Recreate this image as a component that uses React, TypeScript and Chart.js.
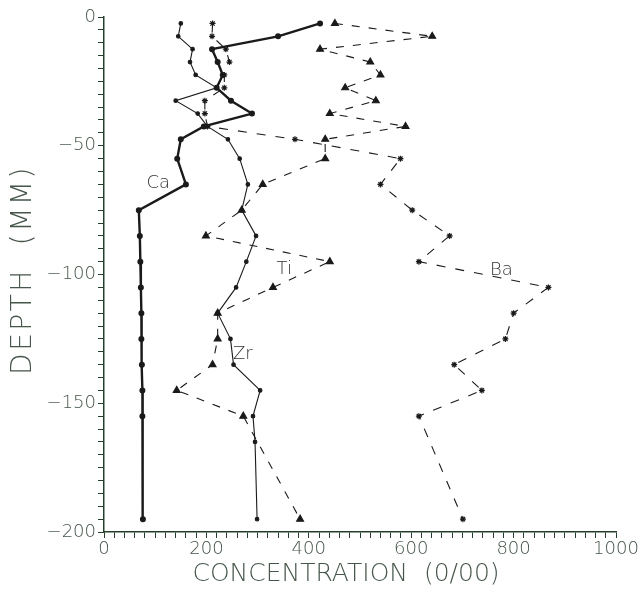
import React, { useEffect, useRef } from "react";
import { Chart, registerables } from "chart.js";

Chart.register(...registerables);

const depths = [-2.5, -7.5, -12.5, -17.5, -22.5, -27.5, -32.5, -37.5, -42.5, -47.5, -55, -65, -75, -85, -95, -105, -115, -125, -135, -145, -155, -195];
const depthsZr = [-2.5, -7.5, -12.5, -17.5, -22.5, -27.5, -32.5, -37.5, -42.5, -47.5, -55, -65, -75, -85, -95, -105, -115, -125, -135, -145, -155, -165, -195];

const caValues = [422, 340, 211, 222, 232, 220, 248, 289, 195, 150, 143, 160, 68, 70, 71, 72, 73, 73, 74, 75, 75, 76];
const zrValues = [150, 145, 173, 168, 179, 220, 140, 183, 202, 242, 265, 281, 269, 297, 278, 258, 222, 247, 253, 305, 291, 295, 299];
const tiValues = [451, 641, 422, 520, 540, 471, 531, 441, 589, 432, 432, 310, 269, 199, 441, 330, 222, 222, 212, 142, 272, 383];
const baValues = [212, 211, 238, 245, 235, 235, 197, 197, 202, 373, 579, 540, 602, 675, 615, 868, 800, 784, 684, 738, 615, 701];

const seriesLabels = ["Ca", "Zr", "Ti", "Ba"];
const labelX = [106, 271, 352, 776];
const labelY = [-64.7, -131, -98, -98.5];

const xTickLabels = [0, 200, 400, 600, 800, 1000];
const yTickLabels = [0, -50, -100, -150, -200];

const xTitle = "CONCENTRATION  (0/00)";
const yTitle = "DEPTH  (MM)";

const AXIS = "#24402c";
const TEXT = "#46564a";
const INK = "#1a1a1a";
const FONT = "'DejaVu Sans', 'Liberation Sans', sans-serif";

function pts(ys: number[], xs: number[]) {
  return xs.map((x, i) => ({ x, y: ys[i] }));
}

export default function App() {
  const ref = useRef<HTMLCanvasElement | null>(null);
  useEffect(() => {
    if (!ref.current) return;
    const labelPlugin = {
      id: "seriesLabels",
      afterDatasetsDraw(chart: any) {
        const { ctx, scales } = chart;
        ctx.save();
        ctx.fillStyle = "#333";
        ctx.font = "200 18px " + FONT;
        ctx.textAlign = "center";
        ctx.textBaseline = "middle";
        seriesLabels.forEach((t, i) => {
          ctx.fillText(t, scales.x.getPixelForValue(labelX[i]), scales.y.getPixelForValue(labelY[i]));
        });
        // axis titles
        ctx.fillStyle = TEXT;
        ctx.font = "200 25px " + FONT;
        (ctx as any).letterSpacing = "0px";
        ctx.fillText(xTitle, 346, 574);
        ctx.save();
        ctx.translate(24, 270);
        ctx.rotate(-Math.PI / 2);
        ctx.font = "200 28px " + FONT;
        (ctx as any).letterSpacing = "2.5px";
        ctx.fillText(yTitle, 0, 0);
        ctx.restore();
        ctx.restore();
      },
    };
    const chart = new Chart(ref.current, {
      type: "line",
      data: {
        datasets: [
          {
            label: "Ca",
            data: pts(depths, caValues),
            borderColor: INK,
            backgroundColor: INK,
            borderWidth: 2.4,
            pointRadius: 1.8,
            pointStyle: "circle",
            tension: 0,
          },
          {
            label: "Zr",
            data: pts(depthsZr, zrValues),
            borderColor: INK,
            backgroundColor: INK,
            borderWidth: 1.1,
            pointRadius: 1.8,
            pointStyle: "circle",
            tension: 0,
          },
          {
            label: "Ti",
            data: pts(depths, tiValues),
            borderColor: INK,
            backgroundColor: INK,
            borderWidth: 1.1,
            borderDash: [8, 9],
            pointRadius: 4,
            pointStyle: "triangle",
            tension: 0,
          },
          {
            label: "Ba",
            data: pts(depths, baValues),
            borderColor: INK,
            backgroundColor: INK,
            borderWidth: 1.1,
            borderDash: [9, 10],
            pointRadius: 3,
            pointStyle: "star",
            pointBorderWidth: 1.2,
            tension: 0,
          },
        ],
      },
      options: {
        animation: false,
        responsive: false,
        layout: { padding: { top: 17, right: 25, left: 0, bottom: 0 } },
        plugins: { legend: { display: false }, tooltip: { enabled: false } },
        scales: {
          x: {
            type: "linear",
            min: 0,
            max: 1000,
            border: { color: AXIS, width: 1.5 },
            grid: { drawOnChartArea: false, drawTicks: true, tickLength: 6, tickColor: AXIS, lineWidth: 1 },
            ticks: {
              stepSize: 20,
              autoSkip: false,
              maxTicksLimit: 200,
              maxRotation: 0,
              color: TEXT,
              padding: 1,
              font: { family: FONT, size: 18, weight: "200" },
              callback: (v: any) => (xTickLabels.includes(Number(v)) ? String(v) : ""),
            },
            afterFit: (s: any) => {
              s.height = 61;
            },
          },
          y: {
            type: "linear",
            min: -200,
            max: 0,
            border: { color: AXIS, width: 1.5 },
            grid: { drawOnChartArea: false, drawTicks: true, tickLength: 6, tickColor: AXIS, lineWidth: 1 },
            ticks: {
              stepSize: 5,
              autoSkip: false,
              maxTicksLimit: 200,
              color: TEXT,
              padding: 2,
              font: { family: FONT, size: 18, weight: "200" },
              callback: (v: any) => {
                const n = Number(v);
                if (!yTickLabels.includes(n)) return "";
                return n < 0 ? "\u2212" + String(-n) : String(n);
              },
            },
            afterFit: (s: any) => {
              s.width = 104;
            },
          },
        },
      },
      plugins: [labelPlugin],
    });
    return () => chart.destroy();
  }, []);
  return (
    <div style={{ position: "fixed", left: 0, top: 0, width: 641, height: 593, background: "#fff" }}>
      <canvas ref={ref} width={641} height={593} style={{ width: 641, height: 593, display: "block" }} />
    </div>
  );
}
